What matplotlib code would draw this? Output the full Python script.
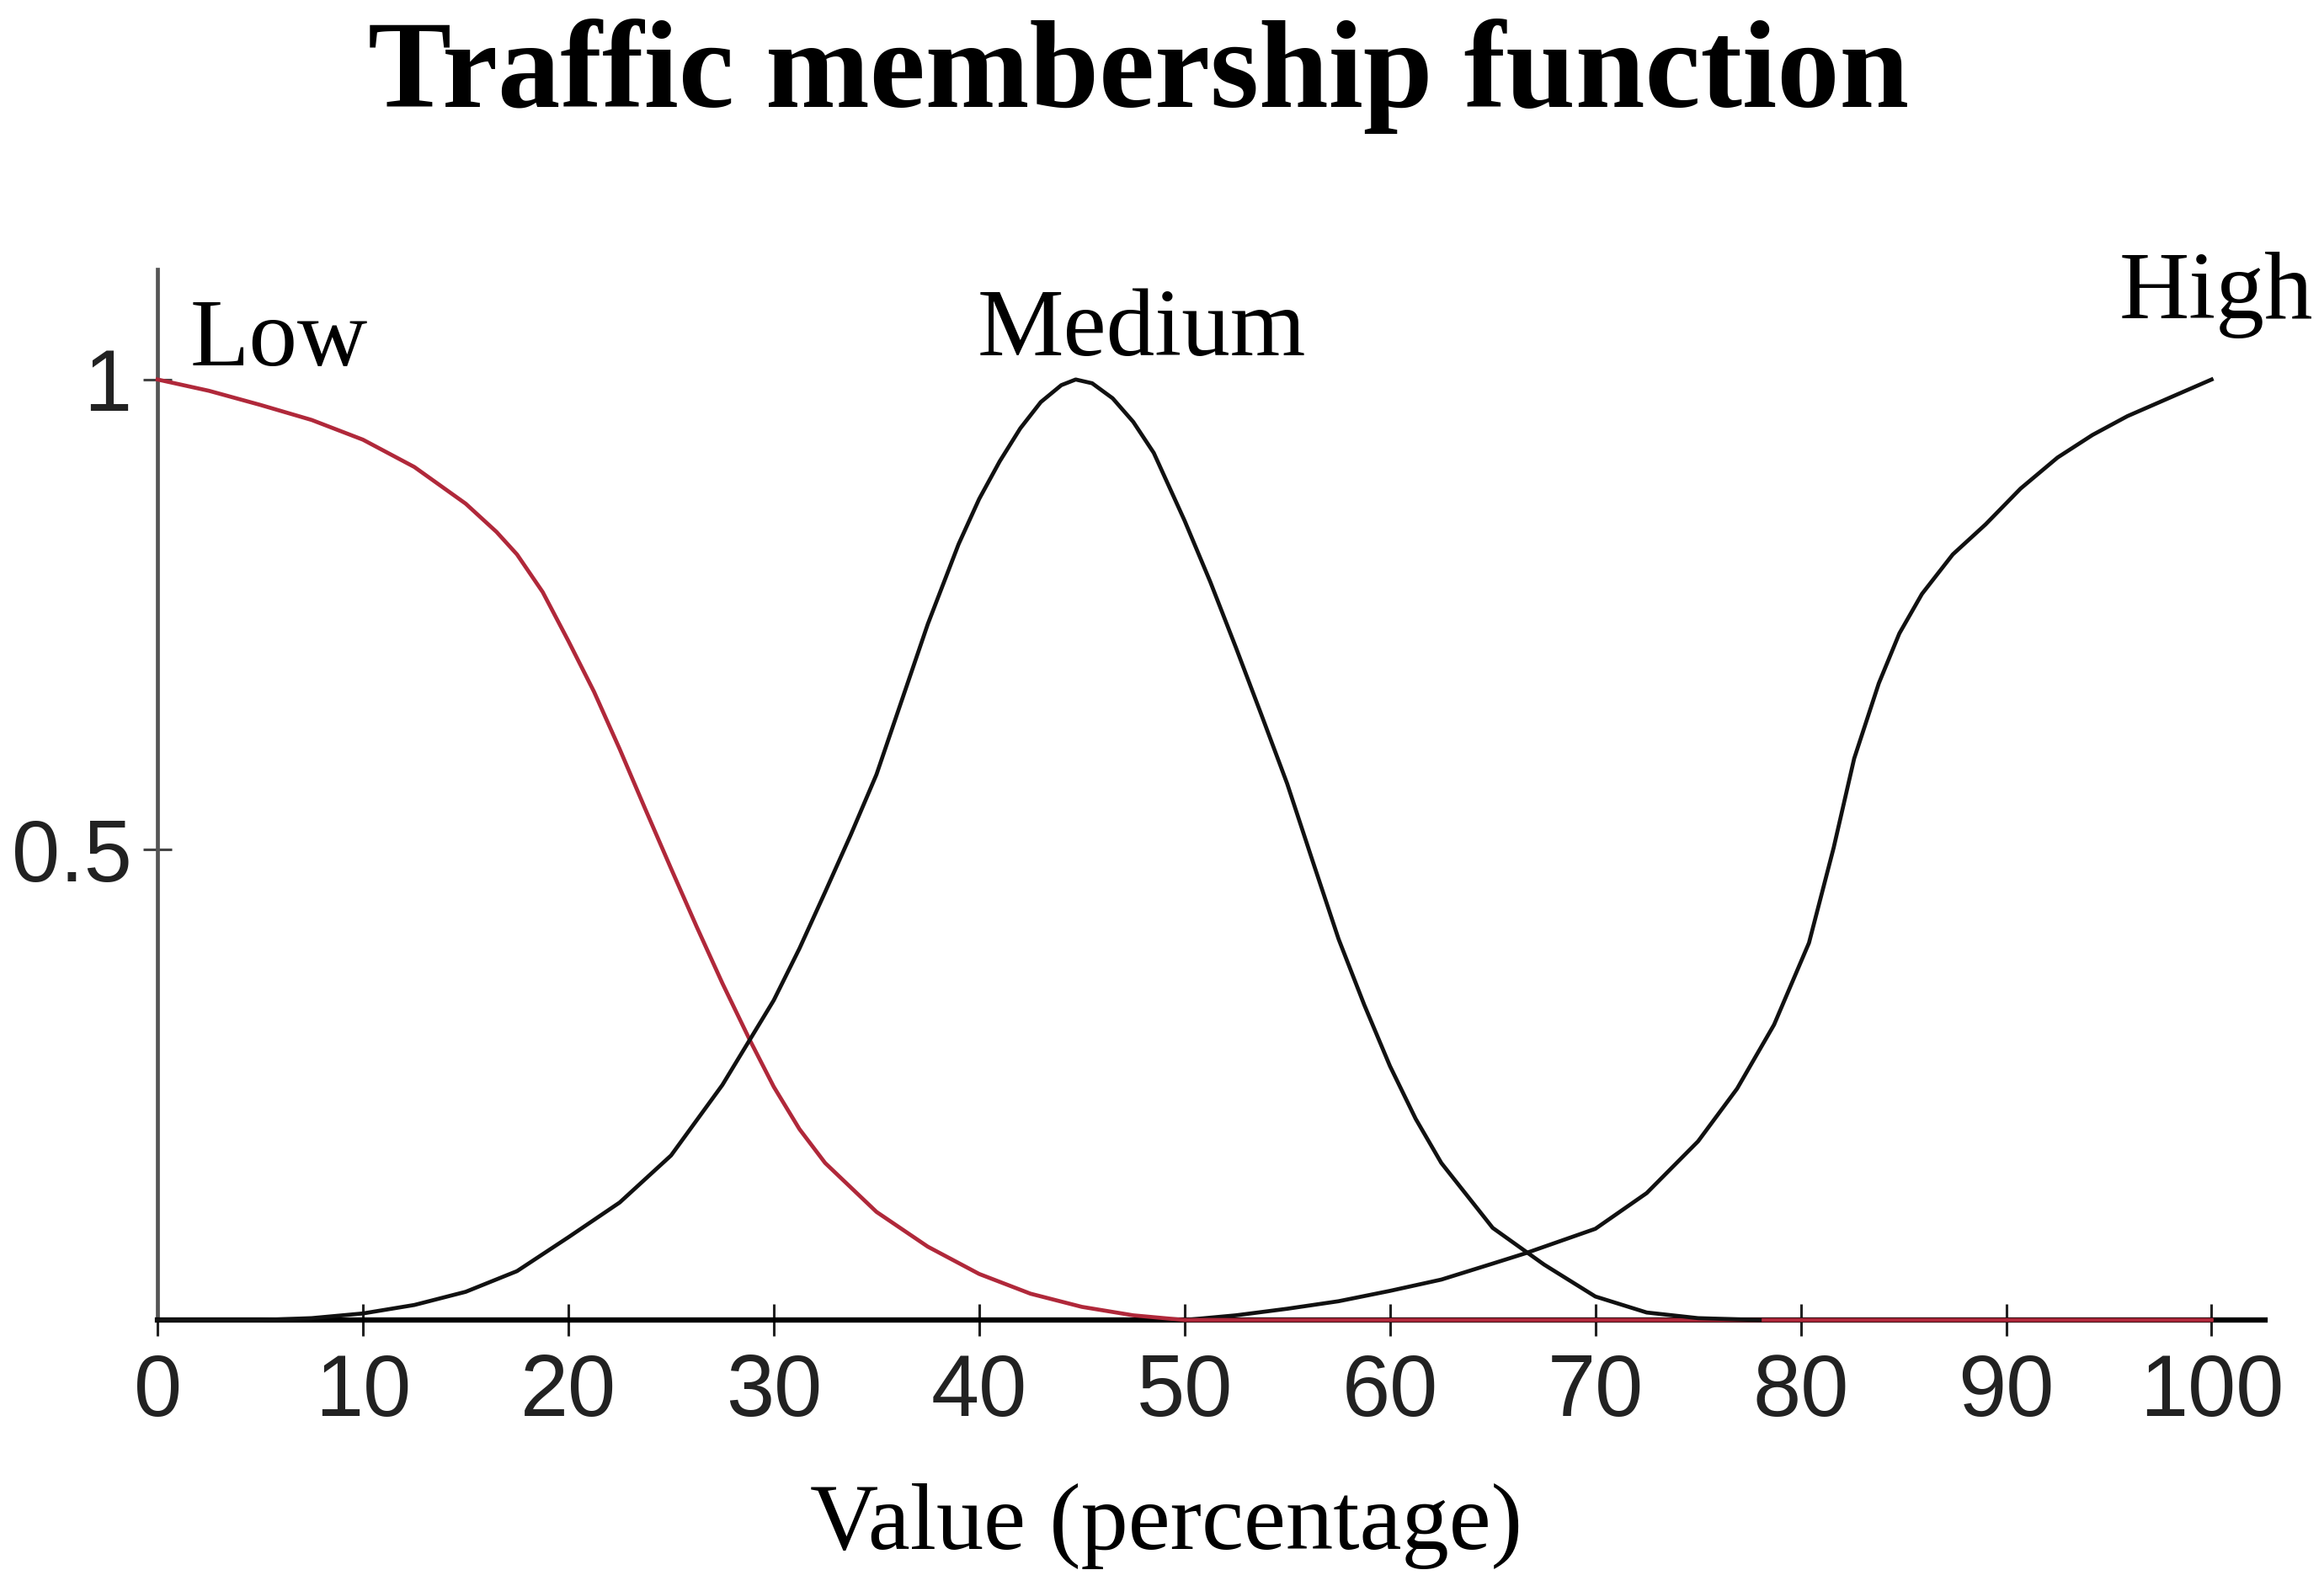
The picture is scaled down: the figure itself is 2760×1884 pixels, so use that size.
import numpy as np
from matplotlib import pyplot as plt

# values
low_x = [0, 2.5, 5, 7.5, 10, 12.5, 15, 16.5, 17.5, 18.75, 20, 21.25, 22.5,
         23.75, 25, 26.25, 27.5, 28.85, 30, 31.25, 32.5, 35, 37.5, 40, 42.5,
         45, 47.5, 50, 100]
low_y = [1.0, 0.988, 0.973, 0.957, 0.936, 0.907, 0.868, 0.838, 0.814, 0.774,
         0.722, 0.668, 0.607, 0.543, 0.48, 0.418, 0.358, 0.297, 0.248, 0.203,
         0.167, 0.115, 0.078, 0.049, 0.028, 0.014, 0.005, 0.0, 0.0]

med_x = [0, 5, 7.5, 10, 12.5, 15, 17.5, 20, 22.5, 25, 27.5, 30, 31.25, 32.5,
         33.75, 35, 36.25, 37.5, 39, 40, 41, 42, 43, 44, 44.7, 45.5, 46.5,
         47.5, 48.5, 50, 51.25, 52.5, 53.75, 55, 56.25, 57.5, 58.75, 60, 61.25,
         62.5, 65, 67.5, 70, 72.5, 75, 78]
med_y = [0.0, 0.0, 0.002, 0.007, 0.016, 0.03, 0.052, 0.088, 0.125, 0.175,
         0.25, 0.34, 0.395, 0.455, 0.516, 0.58, 0.66, 0.74, 0.825, 0.873,
         0.913, 0.948, 0.976, 0.994, 1.0, 0.996, 0.98, 0.955, 0.922, 0.85,
         0.785, 0.715, 0.643, 0.57, 0.487, 0.405, 0.335, 0.27, 0.214, 0.167,
         0.098, 0.059, 0.025, 0.008, 0.002, 0.0]

high_x = [50, 52.5, 55, 57.5, 60, 62.5, 65, 66.6, 70, 72.5, 75, 76.9, 78.7,
          80.4, 81.6, 82.6, 83.8, 84.8, 85.9, 87.4, 89, 90.7, 92.5, 94.2,
          95.9, 98, 100]
high_y = [0.0, 0.005, 0.012, 0.02, 0.031, 0.043, 0.06, 0.071, 0.097, 0.135,
          0.19, 0.246, 0.314, 0.401, 0.502, 0.597, 0.677, 0.73, 0.772, 0.814,
          0.846, 0.884, 0.917, 0.941, 0.961, 0.981, 1.0]

x_ticks = [0, 10, 20, 30, 40, 50, 60, 70, 80, 90, 100]
y_ticks = [0.5, 1]
y_tick_labels = ['0.5', '1']

serif = 'Liberation Serif'
sans = 'Liberation Sans'

fig = plt.figure(figsize=(27.6, 18.84), dpi=100)
ax = fig.add_axes([0.0678, 0.1677, 0.9068, 0.6624])

ax.plot(high_x, high_y, color='#111111', lw=3.4, zorder=3, clip_on=False,
        solid_joinstyle='round')
ax.plot(low_x, low_y, color='#b0283a', lw=3.4, zorder=4, clip_on=False,
        solid_joinstyle='round')
ax.plot(med_x, med_y, color='#111111', lw=3.4, zorder=5, clip_on=False,
        solid_joinstyle='round')

ax.set_xlim(0, 102.6)
ax.set_ylim(0, 1.117)

for s in ['top', 'right']:
    ax.spines[s].set_visible(False)
ax.spines['left'].set_color('#555555')
ax.spines['left'].set_linewidth(3.4)
ax.spines['bottom'].set_color('black')
ax.spines['bottom'].set_linewidth(4.5)

ax.set_xticks(x_ticks)
ax.set_xticklabels([str(t) for t in x_ticks], fontfamily=sans, fontsize=74,
                   color='#222222')
ax.set_yticks(y_ticks)
ax.set_yticklabels(y_tick_labels, fontfamily=sans, fontsize=74,
                   color='#222222')
ax.tick_params(axis='x', direction='inout', length=28, width=2.2, pad=14,
               color='#222222')
ax.tick_params(axis='y', direction='inout', length=24, width=2.2, pad=10,
               color='#444444')

ax.text(1.57, 1.015, 'Low', fontfamily=serif, fontsize=83, ha='left',
        va='baseline')
ax.text(39.9, 1.026, 'Medium', fontfamily=serif, fontsize=83, ha='left',
        va='baseline')
ax.text(95.5, 1.065, 'High', fontfamily=serif, fontsize=83, ha='left',
        va='baseline', clip_on=False)

fig.text(0.490, 0.9326, 'Traffic membership function', fontfamily=serif,
         fontsize=107, fontweight='bold', ha='center', va='baseline')
fig.text(0.502, 0.0234, 'Value (percentage)', fontfamily=serif, fontsize=81,
         ha='center', va='baseline')

fig.savefig('out.png', dpi=100, facecolor='white')
